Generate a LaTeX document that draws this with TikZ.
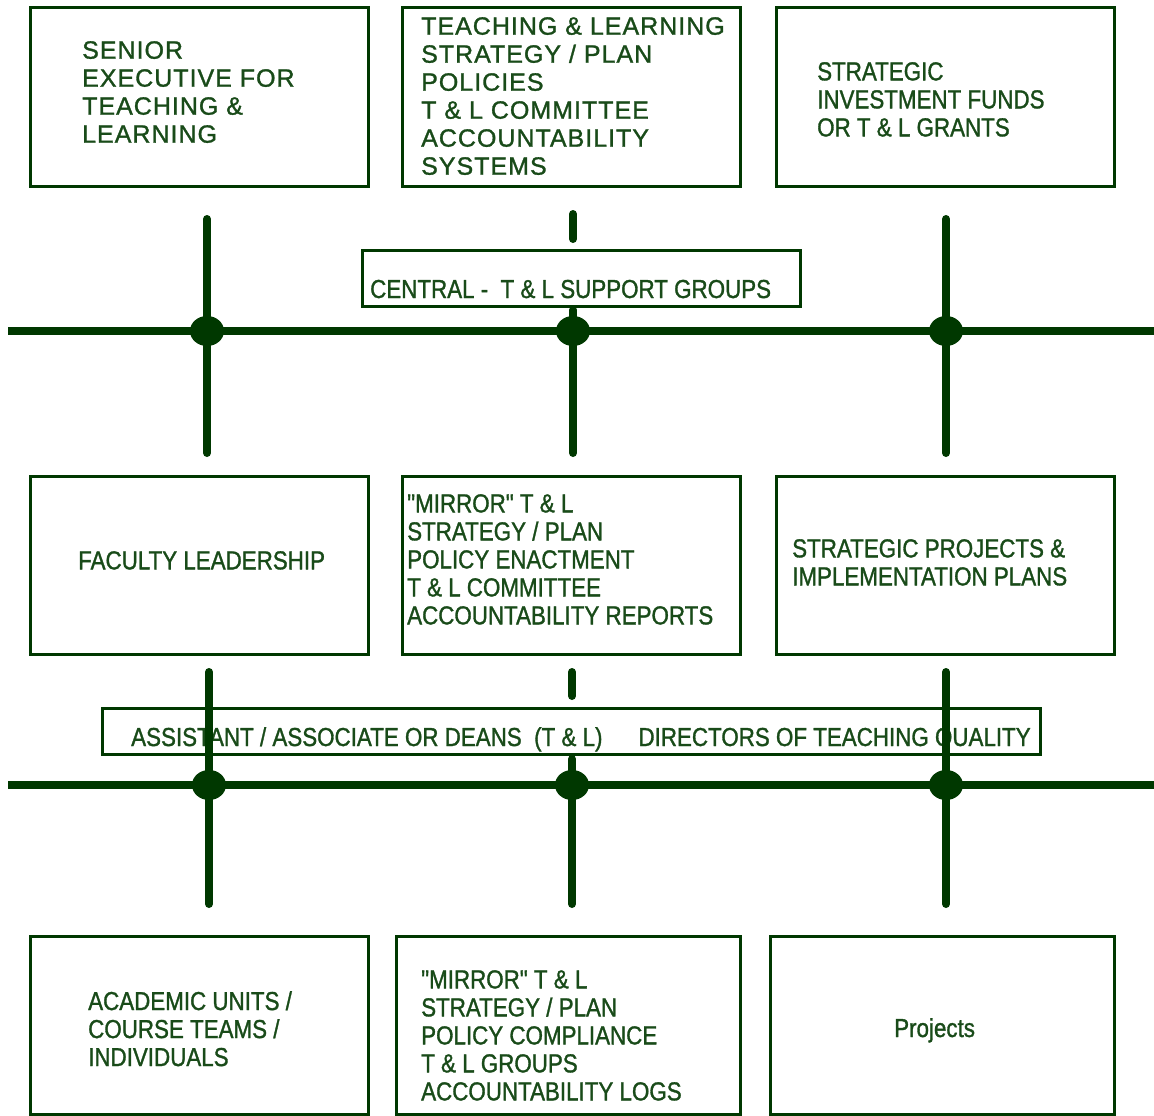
\documentclass[tikz,border=0pt]{standalone}
\usepackage{fontspec}
\setmainfont{Liberation Sans}
\newfontfamily\spacedf[LetterSpace=4,FakeBold=1.2]{Liberation Sans}
\newfontfamily\condf[FakeStretch=0.86,FakeBold=1.2]{Liberation Sans}
\definecolor{lg}{RGB}{0,56,0}
\definecolor{tg}{RGB}{25,75,25}
\usetikzlibrary{shapes.geometric}
\tikzset{
  box/.style={draw=lg, line width=3pt, inner sep=0pt},
  wtxt/.style={text=tg, inner sep=0pt, align=left, anchor=north west, font={\spacedf\fontsize{25}{28}\selectfont}},
  ctxt/.style={text=tg, inner sep=0pt, align=left, anchor=north west, font={\condf\fontsize{26}{28}\selectfont}},
  bar/.style={draw=lg, line width=8pt, line cap=round},
  hbar/.style={draw=lg, line width=8pt},
  jdot/.style={fill=lg, ellipse, minimum width=34pt, minimum height=30pt, inner sep=0pt},
}
\begin{document}
\begin{tikzpicture}[x=1pt,y=-1pt]
\useasboundingbox (0,0) rectangle (1154,1116);
% boxes
\node[box, minimum width=338pt, minimum height=178pt] (A) at (199,97) {};
\node[box, minimum width=338pt, minimum height=178pt] (B) at (571,97) {};
\node[box, minimum width=338pt, minimum height=178pt] (C) at (945,97) {};
\node[box, minimum width=338pt, minimum height=178pt] (D) at (199,565) {};
\node[box, minimum width=338pt, minimum height=178pt] (E) at (571,565) {};
\node[box, minimum width=338pt, minimum height=178pt] (F) at (945,565) {};
\node[box, minimum width=338pt, minimum height=178pt] (G) at (199,1025) {};
\node[box, minimum width=344pt, minimum height=178pt] (H) at (568,1025) {};
\node[box, minimum width=344pt, minimum height=178pt] (I) at (942,1025) {};
\node[box, minimum width=438pt, minimum height=56pt] (CEN) at (581,278) {};
\node[box, minimum width=938pt, minimum height=46pt] (ASS) at (571,731) {};
% texts
\node[wtxt] (tA) at (82,41) {SENIOR\\EXECUTIVE FOR\\TEACHING \&\\LEARNING};
\node[wtxt] (tB) at (421,17) {TEACHING \& LEARNING\\STRATEGY / PLAN\\POLICIES\\T \& L COMMITTEE\\ACCOUNTABILITY\\SYSTEMS};
\node[ctxt] (tC) at (817,62) {STRATEGIC\\INVESTMENT FUNDS\\OR T \& L GRANTS};
\node[ctxt] (tD) at (78,551) {FACULTY LEADERSHIP};
\node[ctxt] (tE) at (407,494) {"MIRROR" T \& L\\STRATEGY / PLAN\\POLICY ENACTMENT\\T \& L COMMITTEE\\ACCOUNTABILITY REPORTS};
\node[ctxt] (tF) at (792,539) {STRATEGIC PROJECTS \&\\IMPLEMENTATION PLANS};
\node[ctxt] (tG) at (88,991) {ACADEMIC UNITS /\\COURSE TEAMS /\\INDIVIDUALS};
\node[ctxt] (tH) at (421,970) {"MIRROR" T \& L\\STRATEGY / PLAN\\POLICY COMPLIANCE\\T \& L GROUPS\\ACCOUNTABILITY LOGS};
\node[ctxt, anchor=base west] (tI) at (894,1037) {Projects};
\node[ctxt, anchor=base west] (tCEN) at (370,298) {CENTRAL -\ \ T \& L SUPPORT GROUPS};
\node[ctxt, anchor=base west] (tASS) at (131,746) {ASSISTANT / ASSOCIATE OR DEANS\ \ (T \& L)\hspace{36pt}DIRECTORS OF TEACHING QUALITY};
% junction coordinates
\coordinate (j1) at (207,331);
\coordinate (j2) at (573,331);
\coordinate (j3) at (946,331);
\coordinate (k1) at (209,785);
\coordinate (k2) at (572,785);
\coordinate (k3) at (946,785);
\coordinate (h1l) at (8,331);  \coordinate (h1r) at (1154,331);
\coordinate (h2l) at (8,785);  \coordinate (h2r) at (1154,785);
\coordinate (j1t) at (207,219); \coordinate (j1b) at (207,453);
\coordinate (j2a) at (573,214); \coordinate (j2c) at (573,239);
\coordinate (j2t) at (573,310); \coordinate (j2b) at (573,453);
\coordinate (j3t) at (946,219); \coordinate (j3b) at (946,453);
\coordinate (k1t) at (209,672); \coordinate (k1b) at (209,904);
\coordinate (k2a) at (572,672); \coordinate (k2c) at (572,696);
\coordinate (k2t) at (572,759); \coordinate (k2b) at (572,904);
\coordinate (k3t) at (946,672); \coordinate (k3b) at (946,904);
% lines
\draw[hbar] (h1l) -- (j1) -- (j2) -- (j3) -- (h1r);
\draw[hbar] (h2l) -- (k1) -- (k2) -- (k3) -- (h2r);
\draw[bar] (j1t) -- (j1) -- (j1b);
\draw[bar] (j2a) -- (j2c);
\draw[bar] (j2t) -- (j2) -- (j2b);
\draw[bar] (j3t) -- (j3) -- (j3b);
\draw[bar] (k1t) -- (k1) -- (k1b);
\draw[bar] (k2a) -- (k2c);
\draw[bar] (k2t) -- (k2) -- (k2b);
\draw[bar] (k3t) -- (k3) -- (k3b);
% dots
\node[jdot] (dj1) at (j1) {};
\node[jdot] (dj2) at (j2) {};
\node[jdot] (dj3) at (j3) {};
\node[jdot] (dk1) at (k1) {};
\node[jdot] (dk2) at (k2) {};
\node[jdot] (dk3) at (k3) {};
\end{tikzpicture}
\end{document}
